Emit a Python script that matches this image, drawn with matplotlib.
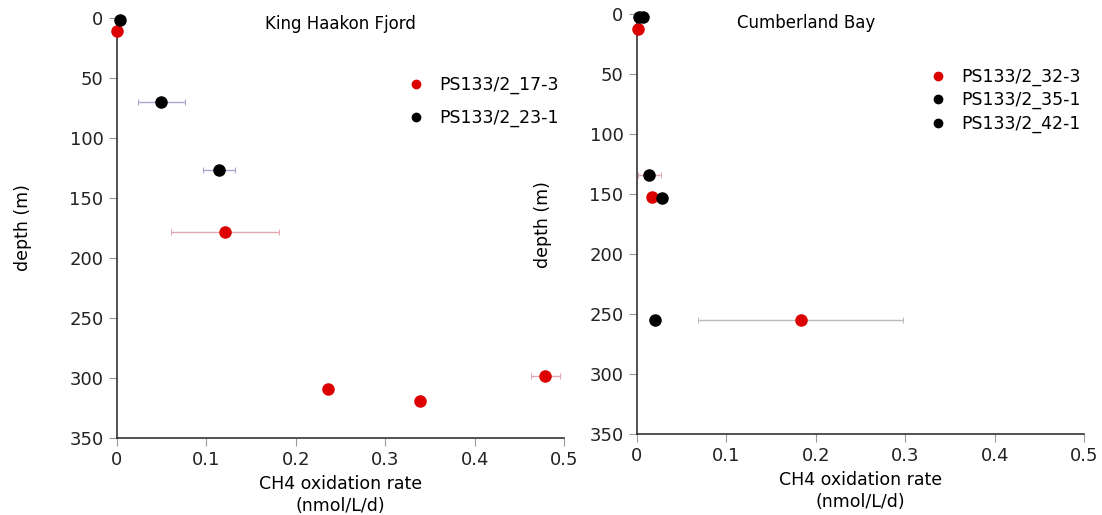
import matplotlib.pyplot as plt

plt.rcParams['font.family'] = ['DejaVu Sans']

# King Haakon Fjord
st17_3_rate = [0.0, 0.121, 0.236, 0.339, 0.479]
st17_3_depth = [11, 178, 309, 319, 298]
st17_3_err = [0, 0.060, 0, 0, 0.016]

st23_1_rate = [0.004, 0.050, 0.114]
st23_1_depth = [2, 70, 127]
st23_1_err = [0, 0.026, 0.018]

# Cumberland Bay
st32_3_rate = [0.001, 0.017, 0.183]
st32_3_depth = [12, 152, 255]
st32_3_err = [0, 0, 0.114]

st35_1_rate = [0.002, 0.014, 0.028]
st35_1_depth = [2, 134, 153]
st35_1_err = [0, 0.013, 0]

st42_1_rate = [0.007, 0.020]
st42_1_depth = [2, 255]
st42_1_err = [0, 0]

RED = '#dd0000'
BLACK = '#000000'


def plot_series(ax, rate, depth, err, color, ecolor, label):
    for x, y, e in zip(rate, depth, err):
        if e > 0:
            ax.errorbar(x, y, xerr=e, fmt='none', ecolor=ecolor,
                        elinewidth=1.0, capsize=2.5, capthick=0.8, zorder=2)
    ax.plot(rate, depth, 'o', color=color, markersize=8, label=label,
            linestyle='none', zorder=3, clip_on=False)


def style_axis(ax, title, title_xy):
    ax.set_xlim(0, 0.5)
    ax.set_ylim(350, 0)
    ax.set_xticks([0, 0.1, 0.2, 0.3, 0.4, 0.5])
    ax.set_xticklabels(['0', '0.1', '0.2', '0.3', '0.4', '0.5'])
    ax.set_yticks(range(0, 351, 50))
    for s in ['top', 'right']:
        ax.spines[s].set_visible(False)
    for s in ['left', 'bottom']:
        ax.spines[s].set_color('#333333')
        ax.spines[s].set_linewidth(1.2)
    ax.tick_params(axis='both', direction='out', length=6, width=0.8,
                   color='#999999', labelsize=13, labelcolor='#222222')
    ax.set_ylabel('depth (m)', fontsize=12.5, labelpad=27)
    ax.set_xlabel('CH4 oxidation rate\n(nmol/L/d)', fontsize=12.5,
                  labelpad=4, linespacing=1.3)
    ax.text(title_xy[0], title_xy[1], title, transform=ax.transAxes,
            ha='center', va='center', fontsize=12)


fig = plt.figure(figsize=(11.02, 5.15), dpi=100)
ax1 = fig.add_axes([0.1059, 0.1495, 0.406, 0.8155])
ax2 = fig.add_axes([0.5778, 0.1567, 0.4061, 0.8155])

plot_series(ax1, st17_3_rate, st17_3_depth, st17_3_err, RED, '#e0a8b0', 'PS133/2_17-3')
plot_series(ax1, st23_1_rate, st23_1_depth, st23_1_err, BLACK, '#a8a8cc', 'PS133/2_23-1')
style_axis(ax1, 'King Haakon Fjord', (0.5, 0.985))
ax1.legend(loc='upper left', bbox_to_anchor=(0.61, 0.9), frameon=False,
           fontsize=12.5, markerscale=0.75, handletextpad=0.75,
           labelspacing=0.85, handlelength=1.2)

plot_series(ax2, st32_3_rate, st32_3_depth, st32_3_err, RED, '#bbbbbb', 'PS133/2_32-3')
plot_series(ax2, st35_1_rate, st35_1_depth, st35_1_err, BLACK, '#e0a8b0', 'PS133/2_35-1')
plot_series(ax2, st42_1_rate, st42_1_depth, st42_1_err, BLACK, '#bbbbbb', 'PS133/2_42-1')
style_axis(ax2, 'Cumberland Bay', (0.378, 0.98))
ax2.legend(loc='upper left', bbox_to_anchor=(0.614, 0.91), frameon=False,
           fontsize=12.5, markerscale=0.75, handletextpad=0.75,
           labelspacing=0.3, handlelength=1.2)

fig.savefig('out.png', dpi=100)
